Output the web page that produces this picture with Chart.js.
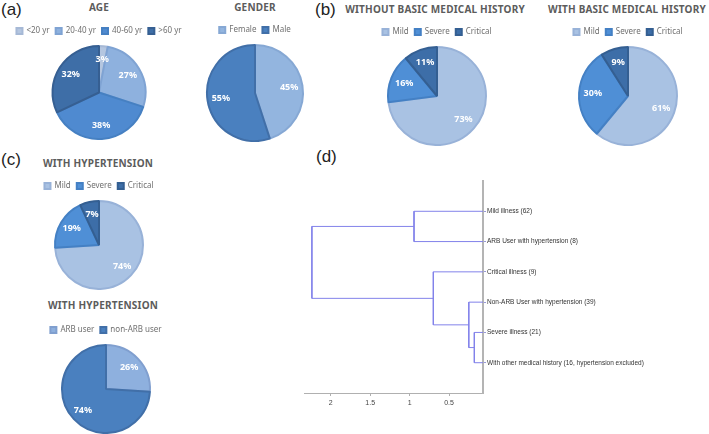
<!DOCTYPE html>
<html>
<head>
<meta charset="utf-8">
<script src="https://cdn.jsdelivr.net/npm/chart.js@4.4.1/dist/chart.umd.min.js"></script>
<style>
  body { margin: 0; width: 709px; height: 434px; background: #fff; position: relative; overflow: hidden; font-family: "Liberation Sans", Arial, sans-serif; }
  .box { position: absolute; }
  .panel { position: absolute; font-size: 17px; color: #222; line-height: 18px; }
  .ttl { position: absolute; width: 220px; text-align: center; font-family: "Noto Sans", sans-serif; font-weight: bold; font-size: 10px; letter-spacing: 0.2px; color: #5c5c5c; line-height: 12px; }
</style>
</head>
<body>
<div class="panel" style="left:1px;top:1px">(a)</div>
<div class="panel" style="left:315px;top:1px">(b)</div>
<div class="panel" style="left:1px;top:151px">(c)</div>
<div class="panel" style="left:316px;top:148px">(d)</div>

<div class="ttl" style="left:-11px;top:1px">AGE</div>
<div class="ttl" style="left:145px;top:1px">GENDER</div>
<div class="ttl" style="left:325px;top:3px">WITHOUT BASIC MEDICAL HISTORY</div>
<div class="ttl" style="left:517px;top:3px">WITH BASIC MEDICAL HISTORY</div>
<div class="ttl" style="left:-12px;top:157px">WITH HYPERTENSION</div>
<div class="ttl" style="left:-7px;top:299px">WITH HYPERTENSION</div>

<div class="box" style="left:9px;top:17px;width:180px;height:123px"><canvas id="age"></canvas></div>
<div class="box" style="left:195px;top:17px;width:120px;height:125px"><canvas id="gender"></canvas></div>
<div class="box" style="left:367px;top:19px;width:140px;height:127px"><canvas id="noHist"></canvas></div>
<div class="box" style="left:558px;top:19px;width:140px;height:127px"><canvas id="hist"></canvas></div>
<div class="box" style="left:29px;top:173px;width:140px;height:117px"><canvas id="hyper"></canvas></div>
<div class="box" style="left:36px;top:316px;width:140px;height:118px"><canvas id="arb"></canvas></div>

<div class="box" style="left:290px;top:140px;width:419px;height:294px"><canvas id="dendro"></canvas></div>

<script>
// ---- pie data ----
const ageLabels = ['<20 yr', '20-40 yr', '40-60 yr', '>60 yr'];
const ageValues = [3, 27, 38, 32];
const genderLabels = ['Female', 'Male'];
const genderValues = [45, 55];
const severityLabels = ['Mild', 'Severe', 'Critical'];
const noHistoryValues = [73, 16, 11];
const historyValues = [61, 30, 9];
const hypertensionValues = [74, 19, 7];
const arbLabels = ['ARB user', 'non-ARB user'];
const arbValues = [26, 74];

// ---- dendrogram data ----
const leafLabels = [
    'Mild illness (62)',
    'ARB User with hypertension (8)',
    'Critical illness (9)',
    'Non-ARB User with hypertension (39)',
    'Severe illness (21)',
    'With other medical history (16, hypertension excluded)'
];
// nodes 1..6 are leaves, 7.. are merges (in order)
const mergePairs = [[5, 6], [4, 7], [3, 8], [1, 2], [10, 9]];
const mergeHeights = [0.18, 0.25, 0.70, 0.945, 2.24];
const xTickValues = [2, 1.5, 1, 0.5];

const pctLabels = {
    id: 'pctLabels',
    afterDatasetsDraw(chart) {
        const ctx = chart.ctx;
        const meta = chart.getDatasetMeta(0);
        const values = chart.data.datasets[0].data;
        ctx.save();
        ctx.fillStyle = '#ffffff';
        ctx.font = 'bold 9px "Noto Sans", sans-serif';
        ctx.textAlign = 'center';
        ctx.textBaseline = 'middle';
        meta.data.forEach((arc, i) => {
            const a = (arc.startAngle + arc.endAngle) / 2;
            const r = arc.outerRadius * 0.72;
            ctx.fillText(values[i] + '%', arc.x + Math.cos(a) * r, arc.y + Math.sin(a) * r);
        });
        ctx.restore();
    }
};

function drawPie(id, labels, values, colors, borders, padTop) {
    const ctx = document.getElementById(id).getContext('2d');
    return new Chart(ctx, {
        type: 'pie',
        data: {
            labels: labels,
            datasets: [{
                data: values,
                backgroundColor: colors,
                borderColor: borders,
                borderWidth: 2
            }]
        },
        options: {
            responsive: true,
            maintainAspectRatio: false,
            animation: false,
            layout: { padding: { top: padTop } },
            plugins: {
                legend: {
                    position: 'top',
                    labels: {
                        boxWidth: 6,
                        boxHeight: 6,
                        padding: 6,
                        color: '#707070',
                        font: { size: 8, family: '"Noto Sans", sans-serif' }
                    }
                },
                tooltip: { enabled: false }
            }
        },
        plugins: [pctLabels]
    });
}

const sevColors = ['#a9c2e3', '#4f8fd6', '#3d6ea8'];
const sevBorders = ['#98b2d8', '#4480c4', '#345f92'];

drawPie('age', ageLabels, ageValues,
    ['#b4c6e0', '#8eb1de', '#4f8ad0', '#3e6ea7'],
    ['#a6b9d6', '#7fa3d3', '#4680c2', '#365f92'], 4);
drawPie('gender', genderLabels, genderValues,
    ['#93b5df', '#4a80bf'], ['#86a8d4', '#416fa8'], 3);
drawPie('noHist', severityLabels, noHistoryValues, sevColors, sevBorders, 3);
drawPie('hist', severityLabels, historyValues, sevColors, sevBorders, 3);
drawPie('hyper', severityLabels, hypertensionValues, sevColors, sevBorders, 3);
drawPie('arb', arbLabels, arbValues, ['#8eb0de', '#4a80bf'], ['#809fcf', '#416fa8'], 4);

// ---- dendrogram ----
function buildDendro() {
    const pos = {};
    leafLabels.forEach((l, i) => { pos[i + 1] = { y: i + 1, h: 0 }; });
    const segs = [];
    mergePairs.forEach((pair, k) => {
        const a = pos[pair[0]];
        const b = pos[pair[1]];
        const H = mergeHeights[k];
        segs.push({
            data: [{ x: a.h, y: a.y }, { x: H, y: a.y }, { x: H, y: b.y }, { x: b.h, y: b.y }],
            borderColor: '#8282ea',
            borderWidth: 1,
            pointRadius: 0,
            showLine: true,
            tension: 0
        });
        pos[leafLabels.length + k + 1] = { y: (a.y + b.y) / 2, h: H };
    });
    return segs;
}

const dctx = document.getElementById('dendro').getContext('2d');
new Chart(dctx, {
    type: 'scatter',
    data: { datasets: buildDendro() },
    options: {
        responsive: true,
        maintainAspectRatio: false,
        animation: false,
        layout: { padding: { left: 14, top: 41 } },
        plugins: { legend: { display: false }, tooltip: { enabled: false } },
        scales: {
            x: {
                type: 'linear',
                reverse: true,
                min: 0.07,
                max: 2.34,
                afterBuildTicks: (s) => { s.ticks = xTickValues.map(v => ({ value: v })); },
                afterFit: (s) => { s.height = 41; },
                grid: { drawOnChartArea: false, tickLength: 3, color: '#b0b0b0' },
                border: { color: '#b0b0b0', width: 1 },
                ticks: {
                    color: '#444',
                    padding: 3,
                    font: { size: 7, family: '"Liberation Sans", Arial' },
                    callback: (v) => String(v)
                }
            },
            y: {
                type: 'linear',
                position: 'right',
                reverse: true,
                min: 0,
                max: 7,
                afterBuildTicks: (s) => { s.ticks = leafLabels.map((l, i) => ({ value: i + 1 })); },
                afterFit: (s) => { s.width = 226; },
                grid: { drawOnChartArea: false, tickLength: 3, color: '#9a9ad8' },
                border: { color: '#b4b4b4', width: 2 },
                ticks: {
                    color: '#333',
                    padding: 1,
                    font: { size: 6.5, family: '"Liberation Sans", Arial' },
                    callback: (v) => leafLabels[v - 1]
                }
            }
        }
    }
});
</script>
</body>
</html>
